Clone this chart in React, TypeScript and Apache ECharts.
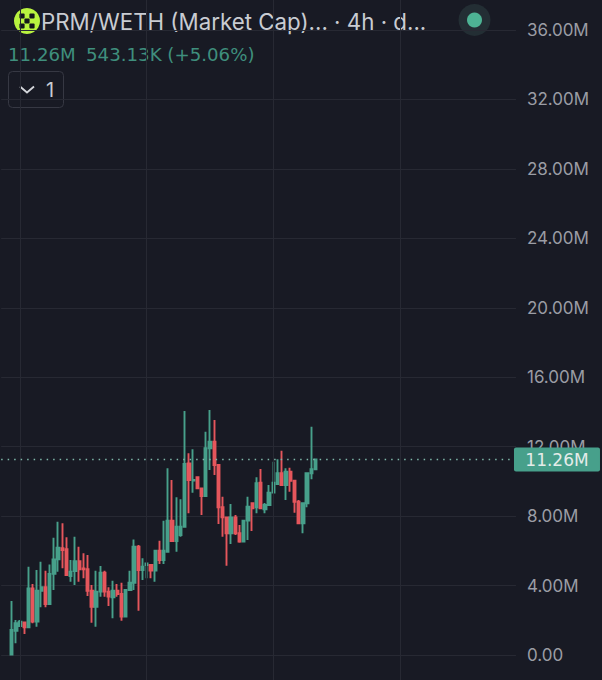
import { useRef, useEffect } from "react";
import * as echarts from "echarts";

const opens = [0.03, 1.4, 1.67, 1.88, 1.6, 3.84, 1.92, 3.7, 3.9, 2.94, 4.67, 5.51, 6.15, 6.09, 4.55, 4.84, 5.41, 4.99, 4.94, 3.7, 2.78, 3.65, 4.74, 3.65, 3.32, 3.7, 3.51, 2.21, 3.74, 4.16, 6.24, 4.9, 5.18, 5.18, 4.86, 6.01, 5.47, 5.95, 7.74, 6.57, 6.91, 7.39, 11.04, 10.05, 10.24, 9.6, 9.16, 11.91, 12.29, 10.94, 8.51, 7.93, 7.01, 7.93, 7.01, 6.53, 7.74, 8.74, 8.51, 9.92, 8.39, 8.64, 9.35, 9.85, 10.47, 9.79, 10.56, 10.04, 8.83, 7.59, 8.74, 10.47, 10.7];
const closes = [1.44, 1.83, 1.92, 1.6, 3.84, 1.92, 3.7, 3.9, 2.94, 4.67, 5.51, 6.18, 6.05, 4.61, 4.8, 5.41, 4.94, 4.94, 3.7, 2.78, 3.65, 4.74, 3.65, 3.36, 3.7, 3.51, 2.21, 3.74, 4.16, 6.24, 4.9, 5.09, 5.28, 4.86, 6.01, 5.47, 6.01, 7.74, 6.57, 7.39, 7.39, 11.0, 10.08, 10.08, 9.6, 9.16, 11.91, 12.29, 10.94, 8.51, 7.93, 7.01, 7.93, 7.01, 6.53, 7.74, 8.54, 8.45, 9.89, 8.45, 8.64, 9.35, 9.92, 10.47, 9.79, 10.56, 10.04, 8.83, 7.59, 8.74, 10.47, 10.7, 11.27];
const lows = [0.03, 0.67, 1.63, 1.21, 1.6, 1.83, 1.63, 2.75, 2.75, 2.94, 3.74, 4.8, 4.99, 4.55, 4.22, 4.03, 4.22, 4.42, 3.4, 1.86, 1.63, 3.36, 3.36, 2.82, 2.11, 3.36, 1.98, 2.21, 3.74, 3.74, 2.55, 4.32, 4.42, 4.42, 4.22, 5.24, 5.24, 5.89, 6.53, 5.95, 6.81, 7.39, 8.16, 9.35, 9.6, 8.06, 9.16, 10.66, 10.37, 7.55, 6.81, 5.14, 6.39, 6.91, 6.47, 6.53, 6.62, 7.14, 8.16, 8.39, 8.16, 8.64, 9.35, 9.85, 9.79, 8.93, 9.41, 8.2, 7.55, 7.01, 8.51, 10.12, 10.7];
const highs = [3.11, 2.02, 2.02, 1.92, 5.09, 4.09, 4.9, 5.37, 4.86, 5.22, 6.76, 7.68, 7.59, 6.78, 5.47, 6.81, 6.24, 5.86, 5.76, 4.03, 4.86, 5.13, 4.86, 3.9, 4.28, 4.09, 4.16, 3.74, 4.86, 6.66, 6.34, 5.57, 5.28, 5.24, 6.01, 6.58, 7.74, 10.75, 10.08, 9.08, 8.97, 14.05, 11.62, 11.85, 10.24, 9.6, 12.86, 14.11, 13.54, 10.94, 9.12, 7.93, 8.7, 8.06, 7.49, 7.74, 9.12, 8.74, 10.24, 10.71, 8.76, 9.79, 11.13, 11.27, 11.77, 10.75, 10.79, 10.04, 8.93, 8.74, 10.47, 13.15, 11.27];

const lastPrice = 11.26;
const leadingBars = 2;
const totalBars = 122;
const sessionBars = [4, 34, 64, 94];

const categories = Array.from({ length: totalBars }, (_, i) => String(i));

const BG = "#181a24";
const GRID = "#272933";
const UP = "#47a08b";
const DOWN = "#e5565c";
const LOGO_DARK = "#14161c";
const FONT = "Inter, sans-serif";
// digits of equal width, the "11.26M" strings need them to fill their space
const FONT_TAB = "'DejaVu Sans', sans-serif";

// logo squares, offset from the logo's centre
const logoSquares = [
  [-5, -5],
  [5, -5],
  [0, 0],
  [-5, 5],
  [5, 5],
];

const App = () => {
  const chartRef = useRef<HTMLDivElement>(null);

  useEffect(() => {
    const myChart = echarts.init(chartRef.current, null, { renderer: "svg" });

    const candles = opens.map((o, i) => [o, closes[i], lows[i], highs[i]]);
    const padded = [...Array(leadingBars).fill("-"), ...candles];

    myChart.setOption({
      animation: false,
      backgroundColor: BG,
      grid: [
        { left: 1.15, top: 30, width: 514.84, height: 625 },
        { left: 1.15, top: 0, width: 514.84, height: 680 },
      ],
      xAxis: [
        {
          type: "category",
          gridIndex: 0,
          data: categories,
          axisLine: { show: false },
          axisTick: { show: false },
          axisLabel: { show: false },
          splitLine: { show: false },
        },
        {
          type: "category",
          gridIndex: 1,
          data: categories,
          axisLine: { show: false },
          axisTick: { show: false },
          axisLabel: { show: false },
          splitLine: { show: false },
        },
      ],
      yAxis: [
        {
          type: "value",
          gridIndex: 0,
          position: "right",
          min: 0,
          max: 36,
          interval: 4,
          axisLine: { show: false },
          axisTick: { show: false },
          axisLabel: {
            margin: 11,
            color: "#9b9da5",
            fontFamily: FONT,
            fontSize: 17,
            formatter: (v: number) => (v === 0 ? "0.00" : v.toFixed(2) + "M"),
          },
          splitLine: { lineStyle: { color: GRID, width: 1 } },
        },
        { type: "value", gridIndex: 1, show: false, min: 0, max: 1 },
      ],
      series: [
        {
          type: "line",
          xAxisIndex: 1,
          yAxisIndex: 1,
          data: [],
          silent: true,
          z: 1,
          markLine: {
            silent: true,
            symbol: "none",
            label: { show: false },
            lineStyle: { color: GRID, width: 1, type: "solid" },
            data: sessionBars.map((b) => ({ xAxis: String(b) })),
          },
        },
        {
          type: "candlestick",
          xAxisIndex: 0,
          yAxisIndex: 0,
          data: padded,
          barWidth: 2.8,
          clip: false,
          z: 3,
          itemStyle: {
            color: UP,
            color0: DOWN,
            borderColor: UP,
            borderColor0: DOWN,
            borderWidth: 1.9,
          },
          markLine: {
            silent: true,
            symbol: "none",
            z: 5,
            lineStyle: { color: "#7fb8aa", width: 1.4, type: [1.5, 5] },
            label: {
              show: true,
              position: "end",
              distance: 41,
              formatter: lastPrice.toFixed(2) + "M",
              color: "#e4ece9",
              backgroundColor: UP,
              fontFamily: FONT_TAB,
              fontSize: 17,
              width: 86,
              height: 24,
              lineHeight: 24,
              align: "center",
              borderRadius: 2,
            },
            data: [{ yAxis: lastPrice }],
          },
        },
      ],
      graphic: [
        // logo
        { type: "circle", shape: { cx: 27, cy: 21, r: 13 }, style: { fill: "#b9f33f" } },
        ...logoSquares.map(([dx, dy]) => ({
          type: "rect",
          shape: { x: 27 + dx - 2.6, y: 21 + dy - 2.6, width: 5.2, height: 5.2, r: 1 },
          style: { fill: LOGO_DARK },
        })),
        {
          type: "text",
          x: 41,
          y: 21,
          style: {
            text: "PRM/WETH (Market Cap)... · 4h · d...",
            fill: "#c9ccd2",
            font: `22.3px ${FONT}`,
            textVerticalAlign: "middle",
          },
        },
        {
          type: "text",
          x: 8,
          y: 54,
          style: {
            text: "11.26M",
            fill: "#3f8f7d",
            font: `18.2px ${FONT_TAB}`,
            textVerticalAlign: "middle",
          },
        },
        {
          type: "text",
          x: 86,
          y: 54,
          style: {
            text: "543.13K (+5.06%)",
            fill: "#3f8f7d",
            font: `18.2px ${FONT_TAB}`,
            textVerticalAlign: "middle",
          },
        },
        // collapse button
        {
          type: "rect",
          shape: { x: 8.5, y: 71.5, width: 55, height: 36, r: 4 },
          style: { fill: BG, stroke: "#363843", lineWidth: 1 },
        },
        {
          type: "polyline",
          shape: { points: [[20, 86.5], [27, 92.5], [34, 86.5]] },
          style: { stroke: "#d5d7dc", lineWidth: 1.8, fill: "none" },
        },
        {
          type: "text",
          x: 46,
          y: 90,
          style: {
            text: "1",
            fill: "#c9ccd2",
            font: `20px ${FONT}`,
            textVerticalAlign: "middle",
          },
        },
        // status dot
        { type: "circle", shape: { cx: 474.5, cy: 20, r: 16 }, style: { fill: "#232e34" } },
        { type: "circle", shape: { cx: 474.5, cy: 20, r: 7.5 }, style: { fill: "#4db394" } },
      ],
    });

    return () => {
      myChart.dispose();
    };
  }, []);

  return (
    <div
      ref={chartRef}
      style={{ position: "fixed", left: 0, top: 0, width: "602px", height: "680px" }}
    ></div>
  );
};

export default App;
